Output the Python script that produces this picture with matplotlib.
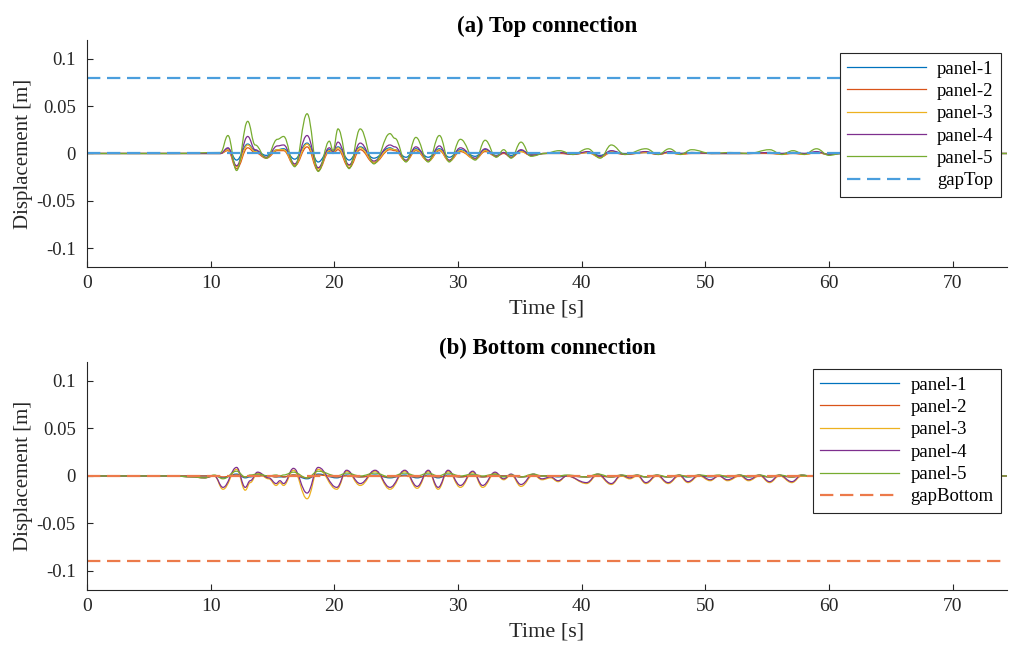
import numpy as np
import matplotlib
matplotlib.use('Agg')
import matplotlib.pyplot as plt
from matplotlib.path import Path
from matplotlib.patches import PathPatch

plt.rcParams['font.family'] = ['Liberation Serif', 'DejaVu Serif']
plt.rcParams['axes.unicode_minus'] = False

# --- data (peaks / troughs) ---
t_top = [0, 7.0, 10.8, 11.4, 12.1, 13.0, 13.6, 14.5, 15.4, 15.9,
         16.8, 17.8, 18.7, 19.6, 19.9, 20.3, 21.2, 22.1, 23.2, 24.5,
         24.9, 25.8, 26.6, 27.6, 28.5, 29.3, 30.2, 31.4, 32.2, 33.1,
         33.7, 34.3, 35.1, 35.9, 37.0, 38.2, 39.3, 40.5, 41.5, 42.4,
         43.5, 45.2, 46.2, 47.1, 48.0, 48.9, 50.5, 52.0, 53.5, 55.2,
         56.2, 57.1, 58.0, 59.0, 60.0, 61.0, 74.4]

top_p1 = [0, 0, 0.000, 0.005, -0.007, 0.010, 0.003, -0.002, 0.004, 0.005,
          -0.006, 0.011, -0.009, 0.004, 0.001, 0.007, -0.007, 0.007, -0.005, 0.006,
          0.004, -0.004, 0.005, -0.004, 0.005, -0.004, 0.004, -0.003, 0.004, -0.002,
          0.001, -0.002, 0.003, -0.001, 0.000, 0.001, 0.000, 0.001, -0.002, 0.002,
          0.000, 0.001, 0.000, 0.001, 0.000, 0.001, 0.000, 0.000, 0.000, 0.001,
          0.000, 0.001, 0.000, 0.001, -0.001, 0.000, 0.000]
top_p2 = [0, 0, 0.000, 0.003, -0.016, 0.006, 0.001, -0.005, 0.003, 0.003,
          -0.013, 0.007, -0.018, 0.002, 0.000, 0.004, -0.015, 0.004, -0.010, 0.004,
          0.003, -0.008, 0.003, -0.008, 0.003, -0.008, 0.002, -0.006, 0.002, -0.003,
          0.000, -0.004, 0.002, -0.002, 0.000, 0.000, -0.001, 0.001, -0.004, 0.001,
          -0.001, 0.001, -0.001, 0.001, -0.001, 0.000, 0.000, 0.000, 0.000, 0.000,
          -0.001, 0.000, -0.001, 0.001, -0.001, 0.000, 0.000]
top_p3 = [0, 0, 0.000, 0.004, -0.014, 0.009, 0.002, -0.004, 0.004, 0.004,
          -0.012, 0.010, -0.016, 0.003, 0.001, 0.006, -0.013, 0.006, -0.009, 0.005,
          0.004, -0.008, 0.004, -0.008, 0.004, -0.008, 0.003, -0.006, 0.003, -0.003,
          0.001, -0.004, 0.002, -0.002, 0.000, 0.001, -0.001, 0.001, -0.004, 0.002,
          -0.001, 0.001, -0.001, 0.001, -0.001, 0.001, 0.000, 0.000, 0.000, 0.001,
          -0.001, 0.001, -0.001, 0.001, -0.001, 0.000, 0.000]
top_p4 = [0, 0, 0.000, 0.006, -0.013, 0.018, 0.004, -0.004, 0.008, 0.009,
          -0.011, 0.019, -0.015, 0.006, 0.002, 0.012, -0.012, 0.011, -0.008, 0.009,
          0.007, -0.007, 0.007, -0.007, 0.008, -0.007, 0.006, -0.005, 0.005, -0.003,
          0.001, -0.004, 0.004, -0.002, 0.000, 0.001, -0.001, 0.002, -0.003, 0.003,
          -0.001, 0.002, -0.001, 0.002, 0.000, 0.001, 0.000, 0.000, 0.000, 0.001,
          0.000, 0.001, 0.000, 0.002, -0.001, 0.000, 0.000]
top_p5 = [0, 0, 0.001, 0.019, -0.018, 0.034, 0.009, -0.005, 0.015, 0.018,
          -0.014, 0.042, -0.019, 0.013, 0.003, 0.026, -0.016, 0.026, -0.011, 0.021,
          0.016, -0.009, 0.017, -0.009, 0.019, -0.009, 0.015, -0.007, 0.014, -0.004,
          0.004, -0.005, 0.012, -0.003, 0.000, 0.003, -0.001, 0.005, -0.005, 0.009,
          -0.001, 0.005, -0.001, 0.005, -0.001, 0.004, 0.000, 0.001, 0.000, 0.004,
          -0.001, 0.003, -0.001, 0.005, -0.002, 0.000, 0.000]

t_bot = [0, 7.0, 8.5, 9.5, 10.3, 11.0, 12.1, 12.8, 13.2, 13.8,
         14.7, 15.3, 15.6, 15.9, 16.7, 17.8, 18.7, 20.2, 21.0, 22.1,
         23.3, 24.5, 25.7, 26.7, 27.6, 28.4, 29.2, 30.2, 31.2, 32.0,
         33.0, 33.7, 34.3, 35.1, 36.1, 36.8, 37.5, 38.1, 38.8, 40.4,
         41.3, 42.4, 43.2, 43.9, 44.5, 45.2, 46.1, 47.0, 47.9, 48.6,
         49.5, 50.4, 51.1, 51.8, 52.8, 53.5, 54.4, 55.2, 56.0, 57.0,
         57.8, 58.5, 74.4]

bot_p1 = [0, 0, 0, 0, 0, -0.002, 0.002, -0.002, -0.001, 0.001,
          0, -0.001, -0.001, -0.001, 0.001, -0.003, 0.002, -0.002, 0.001, -0.001,
          0.001, -0.002, 0.001, -0.002, 0.001, -0.002, 0.001, -0.001, 0.001, -0.001,
          0.001, 0, 0, -0.001, 0, 0, 0, -0.001, 0, -0.001,
          0, -0.001, 0, 0, 0, -0.001, 0, -0.001, 0, -0.001,
          0, -0.001, 0, -0.001, 0, -0.001, 0, -0.001, 0, -0.001,
          0, 0, 0]
bot_p2 = [0, 0, 0, 0, 0, -0.001, 0.001, -0.001, 0, 0,
          0, -0.001, 0, -0.001, 0.001, -0.002, 0.001, -0.001, 0, -0.001,
          0, -0.001, 0, -0.001, 0, -0.001, 0, -0.001, 0, -0.001,
          0, 0, 0, -0.001, 0, 0, 0, 0, 0, -0.001,
          0, -0.001, 0, 0, 0, -0.001, 0, -0.001, 0, 0,
          0, 0, 0, 0, 0, 0, 0, -0.001, 0, -0.001,
          0, 0, 0]
bot_p3 = [0, 0, -0.001, -0.002, 0.000, -0.014, 0.007, -0.015, -0.007, 0.003,
          -0.003, -0.010, -0.007, -0.010, 0.006, -0.024, 0.007, -0.014, 0.005, -0.010,
          0.005, -0.014, 0.005, -0.013, 0.005, -0.014, 0.005, -0.012, 0.004, -0.012,
          0.003, -0.004, 0.001, -0.011, 0.001, -0.004, -0.002, -0.006, 0.000, -0.008,
          0.001, -0.009, 0.000, -0.003, 0.000, -0.008, 0.000, -0.008, 0.000, -0.007,
          0.000, -0.005, 0.000, -0.005, 0.000, -0.005, 0.000, -0.007, 0.000, -0.007,
          0.000, 0.000, 0.000]
bot_p4 = [0, 0, -0.001, -0.002, 0.000, -0.012, 0.009, -0.012, -0.005, 0.004,
          -0.002, -0.008, -0.005, -0.008, 0.008, -0.018, 0.009, -0.012, 0.006, -0.008,
          0.006, -0.012, 0.006, -0.011, 0.006, -0.012, 0.006, -0.010, 0.005, -0.010,
          0.004, -0.003, 0.002, -0.009, 0.002, -0.003, -0.001, -0.005, 0.000, -0.007,
          0.002, -0.008, 0.001, -0.002, 0.001, -0.007, 0.001, -0.007, 0.001, -0.006,
          0.001, -0.004, 0.000, -0.004, 0.001, -0.004, 0.001, -0.006, 0.001, -0.006,
          0.001, 0.000, 0.000]
bot_p5 = [0, 0, -0.001, -0.002, 0.001, -0.003, 0.005, -0.001, 0.001, 0.002,
          0.000, 0.001, 0.000, 0.001, 0.004, -0.002, 0.005, 0.000, 0.003, 0.000,
          0.003, -0.001, 0.003, 0.000, 0.003, 0.000, 0.003, 0.000, 0.002, 0.000,
          0.002, -0.001, 0.001, -0.001, 0.002, 0.000, 0.000, 0.000, 0.001, -0.001,
          0.002, -0.001, 0.001, 0.000, 0.001, -0.001, 0.001, -0.001, 0.001, -0.001,
          0.001, 0.000, 0.001, -0.001, 0.001, -0.001, 0.001, -0.001, 0.001, -0.001,
          0.001, 0.000, 0.000]

gap_top = 0.08
gap_bottom = -0.09

panel_names = ['panel-1', 'panel-2', 'panel-3', 'panel-4', 'panel-5']
colors = ['#0072BD', '#D95319', '#EDB120', '#7E2F8E', '#77AC30']
xticks = [0, 10, 20, 30, 40, 50, 60, 70]
yticks = [-0.1, -0.05, 0, 0.05, 0.1]
ytick_labels = ['-0.1', '-0.05', '0', '0.05', '0.1']
t_end = 74.4

fig = plt.figure(figsize=(10.09, 6.48), dpi=100)
ax1 = fig.add_axes([0.0862, 0.588, 0.9118, 0.3503])
ax2 = fig.add_axes([0.0862, 0.0895, 0.9118, 0.352])


def smooth_curve(ax, t, y, color):
    # bezier through the read extrema, flat tangent at each point
    verts = [(t[0], y[0])]
    codes = [Path.MOVETO]
    for i in range(len(t) - 1):
        k = 0.4 * (t[i + 1] - t[i])
        verts += [(t[i] + k, y[i]), (t[i + 1] - k, y[i + 1]), (t[i + 1], y[i + 1])]
        codes += [Path.CURVE4] * 3
    ax.add_patch(PathPatch(Path(verts, codes), fill=False, edgecolor=color, lw=0.9))


def draw_panel(ax, t, series, gap, gap_label, gap_color, title, anchor):
    for y, name, c in zip(series, panel_names, colors):
        smooth_curve(ax, t, y, c)
        ax.plot([], [], color=c, lw=0.9, label=name)
    ax.plot([0, t_end], [gap, gap], color=gap_color, lw=1.6, dashes=(6, 3),
            label=gap_label)
    # dashed reference at zero, same style, not in legend
    ax.plot([0, t_end], [0, 0], color=gap_color, lw=1.6, dashes=(6, 3))
    ax.set_xlim(0, t_end)
    ax.set_ylim(-0.12, 0.12)
    ax.set_xticks(xticks)
    ax.set_yticks(yticks)
    ax.set_yticklabels(ytick_labels)
    ax.tick_params(direction='in', length=4, labelsize=14, colors='#262626', pad=6)
    ax.tick_params(axis='y', labelsize=13.5, pad=8)
    for s in ['top', 'right']:
        ax.spines[s].set_visible(False)
    for s in ['left', 'bottom']:
        ax.spines[s].set_color('#262626')
        ax.spines[s].set_linewidth(0.8)
    ax.set_xlabel('Time [s]', fontsize=16, color='#262626', labelpad=5)
    ax.set_ylabel('Displacement [m]', fontsize=15, color='#262626', labelpad=3)
    ax.set_title(title, fontsize=16.5, fontweight='bold', pad=6)
    leg = ax.legend(loc='upper right', bbox_to_anchor=anchor, fontsize=13.5,
                    handlelength=4.2, handletextpad=0.6,
                    frameon=True, fancybox=False, framealpha=1,
                    borderaxespad=0, labelspacing=0.28, borderpad=0.4)
    leg.get_frame().set_edgecolor('#262626')
    leg.get_frame().set_linewidth(0.8)


draw_panel(ax1, t_top, [top_p1, top_p2, top_p3, top_p4, top_p5],
           gap_top, 'gapTop', '#4A9EDD', '(a) Top connection', (0.9935, 0.943))
draw_panel(ax2, t_bot, [bot_p1, bot_p2, bot_p3, bot_p4, bot_p5],
           gap_bottom, 'gapBottom', '#EC7A4A', '(b) Bottom connection', (0.9935, 0.969))

fig.savefig('out.png', dpi=100)
